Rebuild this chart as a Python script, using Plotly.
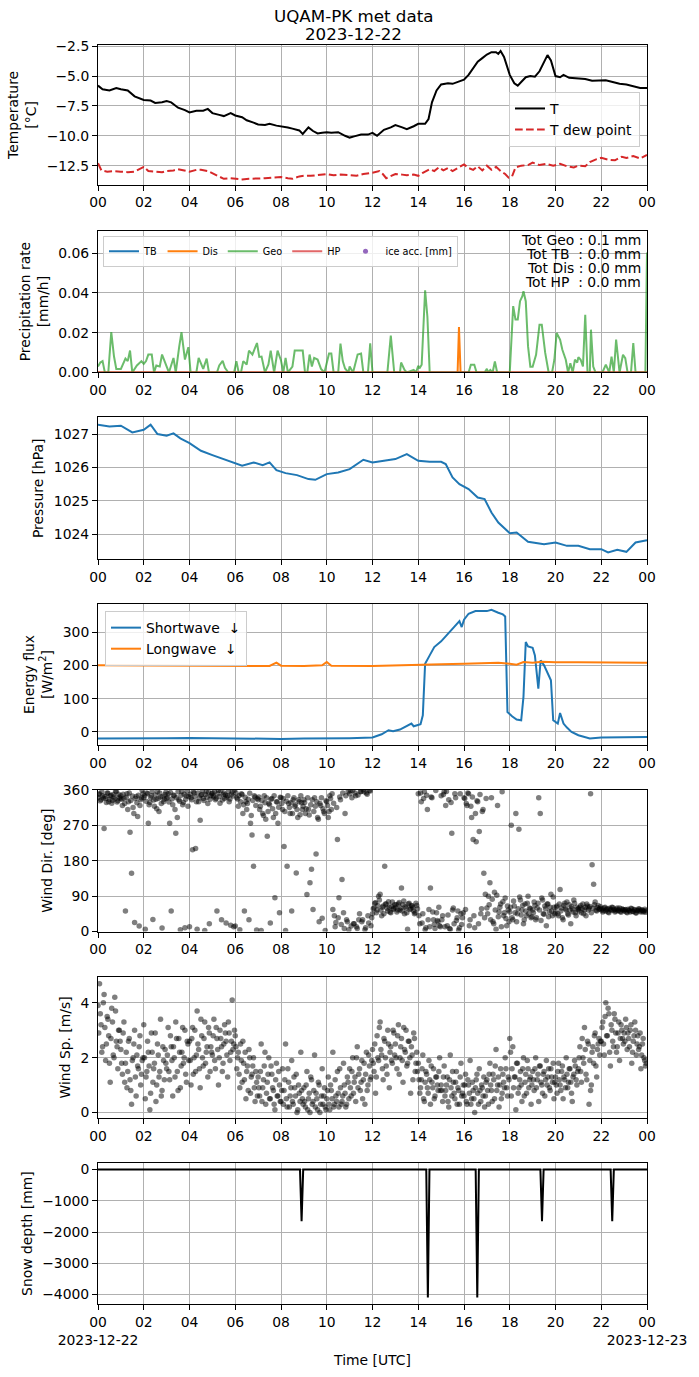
import numpy as np
import pandas as pd
import plotly.graph_objects as go
from plotly.subplots import make_subplots

day0 = pd.Timestamp('2023-12-22 00:00')
day1 = day0 + pd.Timedelta(hours=24)

# --- temperature [degC], hours since 00 UTC
t_hours = [0.0, 0.2, 0.5, 0.8, 1.0, 1.3, 1.6, 2.0, 2.3, 2.5,
           2.8, 3.0, 3.2, 3.5, 3.8, 4.0, 4.3, 4.6, 4.8, 5.0,
           5.3, 5.5, 5.8, 6.0, 6.3, 6.5, 6.8, 7.0, 7.3, 7.5,
           7.8, 8.0, 8.3, 8.5, 8.8, 8.95, 9.2, 9.4, 9.6, 9.8,
           10.0, 10.2, 10.5, 10.8, 11.0, 11.2, 11.5, 11.8, 12.0, 12.2,
           12.5, 12.8, 13.0, 13.3, 13.5, 13.8, 14.0, 14.3, 14.45, 14.6,
           14.8, 15.0, 15.3, 15.5, 15.8, 16.0, 16.2, 16.4, 16.6, 16.8,
           17.0, 17.2, 17.4, 17.5, 17.6, 17.75, 17.9, 18.0, 18.2, 18.35,
           18.5, 18.7, 18.9, 19.1, 19.3, 19.5, 19.65, 19.8, 20.0, 20.2,
           20.35, 20.6, 21.0, 21.3, 21.6, 21.9, 22.2, 22.5, 22.8, 23.1,
           23.3, 23.5, 23.7, 24.0]
t_air = [-5.8, -6.1, -6.2, -6.0, -6.1, -6.2, -6.7, -7.0, -7.05, -7.25,
         -7.2, -7.1, -7.2, -7.65, -7.85, -8.05, -7.9, -7.9, -7.75, -8.1,
         -8.25, -8.35, -8.1, -8.3, -8.45, -8.7, -8.9, -9.05, -9.1, -9.0,
         -9.15, -9.2, -9.3, -9.4, -9.55, -9.85, -9.3, -9.6, -9.8, -9.75,
         -9.7, -9.75, -9.7, -10.0, -10.15, -10.05, -9.9, -9.9, -9.75, -10.0,
         -9.5, -9.3, -9.1, -9.3, -9.45, -9.2, -9.0, -9.0, -8.6, -7.2,
         -6.2, -5.7, -5.6, -5.65, -5.45, -5.3, -4.9, -4.4, -3.8, -3.5,
         -3.2, -3.0, -3.0, -3.15, -2.9, -3.4, -4.2, -4.9, -5.6, -5.8,
         -5.5, -5.1, -5.0, -5.05, -4.6, -3.8, -3.25, -3.7, -5.0, -5.1,
         -4.9, -5.15, -5.2, -5.25, -5.4, -5.4, -5.35, -5.5, -5.65, -5.7,
         -5.8, -5.95, -6.0, -6.0]

td_hours = [0.0, 0.15, 0.4, 0.7, 1.0, 1.3, 1.6, 1.9, 2.0, 2.2,
            2.5, 2.8, 3.0, 3.3, 3.5, 3.8, 4.0, 4.3, 4.5, 4.8,
            5.0, 5.3, 5.5, 5.8, 6.0, 6.3, 6.6, 7.0, 7.3, 7.6,
            8.0, 8.3, 8.5, 8.8, 9.0, 9.3, 9.6, 10.0, 10.3, 10.6,
            11.0, 11.3, 11.6, 12.0, 12.3, 12.45, 12.6, 12.8, 13.0, 13.3,
            13.5, 13.8, 14.0, 14.2, 14.5, 14.7, 14.9, 15.1, 15.3, 15.5,
            15.7, 16.0, 16.2, 16.4, 16.6, 16.8, 17.0, 17.2, 17.4, 17.6,
            17.8, 17.95, 18.1, 18.25, 18.5, 18.8, 19.0, 19.3, 19.6, 19.9,
            20.2, 20.5, 20.8, 21.0, 21.3, 21.5, 21.8, 22.0, 22.3, 22.6,
            22.9, 23.1, 23.4, 23.7, 24.0]
t_dew = [-12.3, -12.9, -13.0, -12.95, -13.0, -13.05, -13.0, -12.75, -12.6, -12.95,
         -13.0, -13.05, -12.95, -12.9, -12.8, -12.95, -13.0, -12.85, -12.85, -12.95,
         -13.15, -13.4, -13.6, -13.55, -13.6, -13.65, -13.6, -13.6, -13.55, -13.5,
         -13.45, -13.55, -13.6, -13.4, -13.35, -13.35, -13.3, -13.2, -13.3, -13.25,
         -13.3, -13.35, -13.2, -13.1, -12.95, -13.2, -13.55, -13.35, -13.2, -13.25,
         -13.3, -13.25, -13.35, -13.1, -12.8, -12.95, -12.65, -12.9, -12.7, -12.95,
         -12.75, -12.4, -12.7, -12.85, -12.55, -12.9, -12.5, -12.85, -12.6, -12.95,
         -13.2, -13.5, -13.4, -12.65, -12.5, -12.45, -12.25, -12.45, -12.35, -12.5,
         -12.35, -12.55, -12.65, -12.5, -12.55, -12.2, -11.95, -11.85, -12.0, -12.05,
         -11.75, -11.85, -11.7, -11.9, -11.6]

# --- precipitation rate [mm/h]
geo_hours = [0.0, 0.1, 0.2, 0.3, 0.45, 0.58, 0.7, 0.8, 1.0, 1.2,
             1.3, 1.4, 1.5, 1.7, 1.9, 2.0, 2.1, 2.2, 2.35, 2.45,
             2.55, 2.7, 2.8, 2.95, 3.1, 3.3, 3.4, 3.55, 3.65, 3.8,
             3.95, 4.05, 4.3, 4.4, 4.6, 4.75, 4.85, 5.2, 5.3, 5.45,
             5.55, 5.7, 5.95, 6.05, 6.15, 6.25, 6.35, 6.5, 6.6, 6.75,
             6.85, 6.95, 7.05, 7.15, 7.3, 7.45, 7.55, 7.7, 7.85, 8.0,
             8.1, 8.2, 8.3, 8.5, 8.6, 8.95, 9.05, 9.15, 9.25, 9.35,
             9.45, 9.6, 9.75, 9.9, 10.1, 10.2, 10.3, 10.5, 10.6, 10.7,
             10.8, 10.95, 11.0, 11.15, 11.35, 11.5, 11.6, 11.8, 11.9, 12.0,
             12.65, 12.8, 12.95, 13.2, 13.25, 13.4, 13.5, 13.8, 13.9, 14.0,
             14.05, 14.15, 14.3, 14.4, 14.5, 16.2, 16.3, 16.45, 16.55, 16.9,
             17.0, 17.05, 17.15, 17.25, 17.35, 17.45, 18.0, 18.15, 18.25, 18.35,
             18.45, 18.55, 18.6, 18.7, 18.8, 18.9, 19.0, 19.15, 19.3, 19.4,
             19.55, 19.7, 19.85, 19.95, 20.05, 20.2, 20.3, 20.45, 20.55, 20.65,
             20.75, 20.85, 20.95, 21.0, 21.1, 21.2, 21.3, 21.4, 21.5, 21.55,
             21.65, 21.75, 22.05, 22.2, 22.35, 22.45, 22.55, 22.65, 22.8, 22.95,
             23.05, 23.15, 23.3, 23.4, 23.5, 23.93, 24.0]
geo_rate = [0.003, 0.005, 0.0057, 0, 0, 0.0203, 0.008, 0.0018, 0.0018, 0.007,
            0.0057, 0.011, 0, 0.0035, 0.0057, 0.0043, 0.0057, 0.009, 0.009, 0,
            0.0035, 0.003, 0.009, 0.004, 0, 0.0073, 0, 0.013, 0.0203, 0.0065,
            0.0127, 0, 0, 0.0073, 0.0018, 0.007, 0, 0, 0.0035, 0.0058,
            0.0023, 0, 0, 0.0057, 0, 0, 0.0057, 0.004, 0.011, 0.009,
            0.012, 0.0148, 0.0078, 0.008, 0, 0.004, 0.011, 0, 0.011, 0.006,
            0, 0.0073, 0, 0.003, 0.011, 0.011, 0, 0, 0.009, 0.003,
            0.0073, 0.0065, 0.0018, 0, 0.0095, 0.0095, 0, 0, 0.0145, 0.0057,
            0.002, 0, 0.003, 0, 0.009, 0.0095, 0, 0, 0.0146, 0,
            0, 0.0185, 0, 0, 0.005, 0.0013, 0, 0.0013, 0, 0.0034,
            0.002, 0.0039, 0.0413, 0.028, 0, 0, 0.0039, 0.0039, 0, 0,
            0.0018, 0, 0.0013, 0, 0.0055, 0, 0, 0.0333, 0.0266, 0.0266,
            0.0358, 0.0383, 0.0408, 0.0358, 0.0131, 0.0029, 0.0029, 0.0089, 0.024, 0.024,
            0.0098, 0, 0, 0.0064, 0.0198, 0.0165, 0.0114, 0.0064, 0, 0.0047,
            0, 0.0064, 0.005, 0.0077, 0.0064, 0.003, 0.029, 0, 0, 0.0215,
            0.003, 0, 0, 0.0039, 0, 0.008, 0, 0.0165, 0, 0.0089,
            0.0072, 0, 0, 0.0148, 0, 0, 0.0602]
dis_hours = [0, 15.72, 15.78, 15.85, 24]
dis_rate = [0, 0, 0.0228, 0, 0]
tb_hours = [0, 24]
tb_rate = [0, 0]
hp_hours = [0, 24]
hp_rate = [0, 0]
tot_labels = ['Tot Geo : 0.1 mm', 'Tot TB\u00a0 : 0.0 mm', 'Tot Dis : 0.0 mm', 'Tot HP\u00a0 : 0.0 mm']

# --- pressure [hPa]
p_hours = [0, 0.5, 1, 1.5, 2, 2.3, 2.6, 3, 3.3, 3.6,
           4, 4.5, 5, 5.5, 6, 6.3, 6.8, 7.2, 7.5, 7.8,
           8.2, 8.7, 9.2, 9.5, 10, 10.5, 11, 11.3, 11.6, 12,
           12.5, 13, 13.5, 14, 14.5, 15, 15.2, 15.5, 15.8, 16.2,
           16.6, 16.9, 17.2, 17.5, 18, 18.3, 18.8, 19.5, 20, 20.5,
           21, 21.5, 22, 22.3, 22.7, 23.1, 23.5, 24]
pressure = [1027.28, 1027.23, 1027.25, 1027.05, 1027.13, 1027.28, 1027.0, 1026.95, 1027.02, 1026.87,
            1026.73, 1026.5, 1026.37, 1026.25, 1026.13, 1026.05, 1026.15, 1026.07, 1026.15, 1025.92,
            1025.83, 1025.77, 1025.65, 1025.63, 1025.8, 1025.85, 1025.95, 1026.1, 1026.23, 1026.15,
            1026.2, 1026.25, 1026.4, 1026.2, 1026.17, 1026.17, 1026.1, 1025.7, 1025.5, 1025.35,
            1025.1, 1025.05, 1024.65, 1024.35, 1024.03, 1024.05, 1023.77, 1023.7, 1023.75, 1023.65,
            1023.65, 1023.55, 1023.55, 1023.45, 1023.53, 1023.47, 1023.75, 1023.82]

# --- radiation [W/m2]
sw_hours = [0, 1, 2, 3, 4, 5, 6, 7, 8, 9,
            10, 11, 12, 12.4, 12.7, 12.9, 13.2, 13.5, 13.7, 13.8,
            14.1, 14.2, 14.3, 14.5, 14.7, 15.0, 15.5, 15.8, 15.9, 16.0,
            16.2, 16.5, 17.0, 17.2, 17.5, 17.7, 17.8, 17.9, 18.1, 18.3,
            18.5, 18.6, 18.7, 18.8, 19.0, 19.1, 19.25, 19.35, 19.5, 19.7,
            19.8, 19.9, 20.1, 20.2, 20.35, 20.5, 20.7, 21.0, 21.5, 22.0,
            23.0, 24.0]
sw_down = [-20, -20, -21, -19, -18, -19, -20, -20, -21, -20,
           -20, -19, -17, -7, 5, 2, 7, 17, 25, 17,
           23, 50, 205, 230, 255, 272, 310, 333, 315, 337,
           355, 363, 363, 367, 358, 353, 347, 60, 47, 37,
           35, 105, 270, 257, 253, 230, 130, 215, 200, 170,
           155, 35, 25, 57, 25, 13, 0, -10, -20, -17,
           -15, -15]
lw_hours = [0, 2, 4, 6, 7.5, 7.8, 8.0, 9, 9.8, 10.0,
            10.2, 12, 14, 15, 16, 17, 17.5, 18, 18.3, 18.6,
            19, 19.4, 20, 21, 22, 23, 24]
lw_down = [200, 199, 198, 197, 198, 208, 199, 198, 200, 210,
           199, 198, 200, 203, 205, 207, 208, 205, 202, 210,
           208, 211, 209, 209, 209, 209, 208]

# --- wind, two interleaved sets of 15 samples per hour (every 4 min, offset 2 min)
wind_dir = [
    [340, 350, 335, 345, 262, 338, 352, 330, 344, 326, 348, 337, 355, 332, 341],
    [345, 320, 338, 52, 350, 330, 252, 148, 315, 23, 343, 292, 14, 335, 358],
    [340, 6, 352, 275, 328, 345, 31, 318, 336, 355, 305, 342, 9, 330, 348],
    [338, 350, 275, 52, 322, 345, 250, 290, 335, 5, 356, 328, 10, 344, 318],
    [12, 340, 208, 352, 211, 6, 330, 283, 348, 338, 3, 355, 325, 20, 345],
    [352, 342, 335, 52, 358, 326, 30, 348, 338, 22, 345, 330, 16, 355, 12],
    [14, 340, 318, 5, 350, 300, 52, 330, 325, 30, 275, 245, 166, 342, 4],
    [335, 310, 3, 300, 345, 285, 242, 325, 22, 338, 290, 86, 330, 275, 48],
    [340, 310, 216, 3, 166, 325, 300, 52, 335, 318, 149, 290, 330, 345, 310],
    [335, 300, 94, 310, 124, 158, 56, 340, 197, 290, 25, 320, 34, 305, 3],
    [330, 290, 345, 310, 56, 40, 23, 234, 86, 335, 132, 48, 300, 30, 355],
    [350, 14, 358, 20, 345, 8, 30, 355, 25, 360, 5, 352, 40, 358, 15],
    [45, 60, 73, 55, 90, 95, 40, 65, 166, 70, 52, 62, 48, 75, 58],
    [62, 50, 70, 55, 111, 68, 45, 60, 6, 72, 58, 65, 52, 48, 66],
    [350, 20, 330, 45, 355, 10, 310, 56, 111, 340, 30, 8, 48, 25, 15],
    [345, 40, 355, 320, 15, 335, 6, 250, 60, 350, 28, 52, 10, 45, 35],
    [340, 56, 320, 350, 30, 290, 234, 10, 228, 330, 254, 45, 305, 148, 95],
    [60, 90, 124, 340, 25, 100, 6, 320, 50, 70, 355, 40, 85, 15, 55],
    [50, 270, 30, 65, 300, 45, 260, 80, 55, 20, 70, 40, 90, 60, 35],
    [55, 75, 30, 60, 340, 300, 85, 45, 65, 15, 70, 50, 95, 40, 62],
    [50, 65, 40, 107, 60, 30, 72, 55, 45, 68, 20, 58, 80, 48, 62],
    [58, 62, 48, 70, 55, 40, 65, 60, 350, 170, 120, 75, 52, 66, 58],
    [55, 50, 60, 52, 58, 48, 56, 62, 54, 50, 57, 53, 60, 49, 55],
    [52, 56, 48, 54, 50, 58, 51, 55, 47, 53, 57, 50, 54, 52, 49],
]
wind_dir_b = [
    [348, 332, 355, 339, 343, 328, 351, 336, 346, 333, 342, 357, 329, 349, 338],
    [336, 349, 325, 341, 310, 352, 333, 344, 300, 338, 327, 346, 320, 339, 350],
    [345, 331, 350, 322, 340, 356, 334, 347, 312, 338, 352, 325, 343, 336, 354],
    [341, 329, 353, 337, 347, 310, 340, 355, 331, 346, 322, 349, 336, 357, 343],
    [349, 335, 356, 343, 330, 352, 339, 346, 358, 333, 348, 341, 354, 336, 350],
    [345, 356, 338, 350, 343, 358, 334, 352, 347, 341, 355, 337, 349, 344, 359],
    [352, 337, 345, 330, 348, 322, 341, 310, 336, 351, 295, 333, 345, 320, 338],
    [342, 318, 333, 295, 327, 340, 305, 322, 336, 312, 345, 300, 329, 316, 341],
    [325, 338, 305, 331, 345, 315, 328, 300, 340, 322, 310, 335, 297, 327, 318],
    [328, 312, 340, 296, 322, 335, 305, 318, 330, 285, 325, 340, 312, 300, 332],
    [320, 305, 338, 350, 326, 12, 315, 35, 342, 18, 352, 8, 345, 25, 5],
    [358, 340, 20, 352, 12, 347, 45, 356, 30, 355, 10, 349, 22, 357, 35],
    [58, 72, 48, 66, 80, 54, 62, 45, 70, 59, 76, 50, 64, 57, 68],
    [68, 55, 74, 60, 52, 78, 63, 48, 70, 56, 66, 61, 45, 72, 58],
    [40, 352, 22, 338, 5, 346, 30, 12, 342, 50, 18, 358, 28, 62, 12],
    [30, 348, 12, 356, 42, 8, 328, 55, 20, 340, 35, 4, 350, 18, 48],
    [338, 325, 352, 15, 318, 342, 40, 300, 332, 20, 348, 58, 310, 35, 338],
    [45, 68, 30, 82, 20, 55, 92, 38, 62, 12, 76, 48, 33, 65, 25],
    [62, 35, 78, 48, 25, 58, 88, 42, 66, 30, 52, 72, 45, 58, 38],
    [48, 66, 35, 72, 55, 28, 80, 44, 58, 70, 38, 62, 52, 88, 45],
    [62, 45, 70, 52, 35, 66, 58, 75, 42, 55, 63, 50, 72, 40, 57],
    [52, 66, 58, 45, 62, 70, 55, 64, 48, 59, 68, 54, 61, 57, 63],
    [58, 53, 62, 56, 50, 59, 54, 61, 57, 52, 60, 55, 51, 58, 56],
    [55, 50, 57, 53, 59, 51, 56, 48, 54, 58, 52, 55, 50, 57, 53],
]
wind_sp = [
    [3.9, 4.7, 3.2, 2.4, 4.3, 1.9, 3.5, 2.8, 1.1, 3.8, 2.1, 4.2, 2.6, 1.6, 3.0],
    [2.3, 1.4, 3.3, 1.8, 0.9, 2.6, 1.2, 0.3, 2.0, 3.0, 0.6, 1.7, 2.4, 1.0, 1.9],
    [3.2, 0.5, 1.5, 2.2, 0.1, 2.9, 1.1, 1.8, 0.4, 2.5, 1.3, 3.4, 0.8, 1.9, 2.3],
    [1.6, 3.1, 1.2, 2.4, 0.6, 2.0, 3.3, 1.5, 2.7, 0.9, 2.2, 1.8, 3.0, 1.1, 2.5],
    [2.6, 1.0, 3.1, 2.0, 1.5, 3.7, 2.3, 0.9, 2.8, 1.7, 3.3, 2.2, 1.3, 2.9, 2.4],
    [2.1, 3.4, 1.6, 2.7, 1.0, 3.0, 2.4, 1.8, 3.2, 2.6, 1.3, 2.9, 2.2, 4.1, 2.5],
    [2.8, 1.6, 2.2, 0.9, 1.9, 2.6, 1.2, 0.5, 1.7, 2.3, 0.7, 1.4, 2.0, 0.4, 1.1],
    [1.3, 0.6, 2.5, 0.9, 1.7, 0.3, 1.1, 2.0, 0.5, 1.4, 0.8, 0.1, 1.8, 0.6, 1.0],
    [0.4, 1.6, 0.8, 2.5, 0.2, 1.1, 0.6, 1.9, 0.3, 0.9, 1.4, 0.1, 0.7, 2.2, 0.5],
    [0.9, 0.2, 1.5, 0.5, 0.0, 1.2, 0.4, 2.1, 0.7, 0.1, 1.0, 0.3, 1.6, 0.6, 0.2],
    [0.5, 1.3, 0.1, 0.8, 2.2, 0.3, 0.6, 1.5, 0.2, 0.9, 0.4, 1.8, 0.7, 0.3, 1.1],
    [1.6, 0.6, 2.0, 1.1, 0.4, 2.4, 1.4, 0.8, 1.9, 1.2, 0.3, 2.2, 1.0, 1.7, 1.3],
    [2.3, 1.5, 0.7, 2.8, 1.9, 3.3, 2.1, 1.2, 2.6, 1.7, 3.0, 0.9, 2.4, 1.8, 2.9],
    [2.5, 1.6, 3.2, 2.0, 2.7, 1.1, 2.3, 3.0, 1.8, 2.6, 0.7, 2.1, 2.9, 1.5, 2.2],
    [1.8, 0.7, 1.2, 2.1, 0.4, 1.5, 0.9, 1.9, 0.3, 1.1, 1.6, 0.6, 1.3, 0.8, 2.0],
    [1.0, 0.4, 1.7, 0.8, 1.3, 0.2, 2.1, 0.6, 1.1, 0.5, 1.5, 0.9, 0.3, 1.8, 0.7],
    [0.6, 1.4, 0.3, 1.0, 1.9, 0.5, 0.8, 0.0, 1.2, 0.7, 1.6, 0.4, 0.9, 1.3, 0.6],
    [1.2, 0.3, 1.8, 0.8, 1.4, 0.5, 2.3, 1.0, 0.2, 1.6, 0.7, 1.1, 2.0, 0.9, 1.3],
    [2.7, 0.6, 2.4, 1.3, 0.1, 1.8, 0.9, 1.5, 0.4, 2.0, 1.1, 0.7, 1.6, 1.2, 0.3],
    [1.5, 0.8, 2.0, 1.2, 0.4, 1.7, 1.0, 1.4, 0.6, 1.9, 1.3, 0.9, 1.6, 1.1, 0.5],
    [1.3, 0.7, 1.8, 1.0, 1.5, 0.5, 1.2, 2.0, 0.9, 1.6, 1.1, 0.4, 1.4, 1.7, 1.0],
    [1.6, 2.4, 1.1, 2.0, 3.1, 1.4, 2.6, 0.3, 0.8, 2.2, 1.8, 2.9, 1.3, 2.5, 2.1],
    [2.6, 3.3, 2.1, 4.0, 2.8, 3.6, 1.7, 3.0, 2.4, 3.4, 2.2, 2.9, 1.9, 3.2, 2.7],
    [2.9, 3.4, 2.3, 2.7, 3.0, 1.8, 2.6, 3.3, 2.1, 2.8, 2.4, 1.6, 2.5, 2.0, 1.7],
]
wind_sp_b = [
    [2.9, 3.6, 2.2, 4.0, 3.1, 2.5, 3.4, 1.8, 2.7, 3.3, 2.0, 3.7, 2.4, 3.0, 2.6],
    [1.8, 2.9, 1.1, 2.2, 1.5, 2.7, 0.8, 1.9, 2.5, 1.3, 2.1, 1.6, 2.8, 1.4, 2.0],
    [2.0, 1.3, 2.6, 1.7, 0.7, 2.2, 1.6, 2.9, 1.0, 2.1, 1.5, 0.6, 2.4, 1.2, 1.8],
    [2.1, 1.5, 2.8, 1.9, 2.4, 1.3, 2.7, 0.8, 2.2, 1.7, 3.1, 2.0, 1.4, 2.6, 1.9],
    [1.9, 2.7, 1.4, 3.0, 2.1, 2.5, 1.6, 3.4, 2.0, 2.7, 1.8, 2.4, 3.1, 1.5, 2.2],
    [2.8, 1.9, 3.1, 2.3, 2.0, 2.7, 1.5, 2.5, 2.9, 2.1, 3.3, 1.9, 2.6, 2.3, 3.0],
    [2.4, 2.0, 1.4, 2.5, 1.1, 1.8, 2.2, 1.5, 0.8, 2.0, 1.3, 1.7, 0.9, 1.5, 0.6],
    [0.9, 1.5, 0.4, 1.2, 2.2, 0.7, 1.4, 0.5, 1.7, 0.9, 0.3, 1.2, 0.6, 1.5, 0.4],
    [0.8, 0.3, 1.2, 0.5, 1.6, 0.2, 0.9, 0.4, 1.3, 0.6, 0.0, 1.0, 0.4, 0.8, 0.3],
    [0.4, 1.0, 0.1, 0.7, 1.3, 0.3, 0.8, 0.2, 0.5, 1.1, 0.0, 0.6, 0.3, 0.9, 0.1],
    [0.8, 0.3, 1.0, 0.5, 0.2, 1.2, 0.4, 0.7, 1.6, 0.3, 0.6, 1.0, 0.2, 1.3, 0.5],
    [0.9, 1.5, 0.7, 1.3, 2.0, 0.9, 1.6, 1.1, 0.5, 1.8, 1.4, 0.8, 2.1, 1.2, 1.9],
    [1.8, 2.5, 1.3, 2.0, 3.1, 2.3, 1.6, 2.7, 2.0, 1.4, 2.5, 2.2, 1.9, 3.0, 2.1],
    [2.0, 2.8, 1.4, 2.4, 1.9, 3.1, 2.2, 1.7, 2.6, 2.0, 2.4, 1.2, 2.7, 1.8, 1.5],
    [1.2, 0.9, 1.6, 0.5, 1.1, 1.4, 0.7, 1.2, 1.7, 0.9, 0.5, 1.3, 1.0, 1.5, 0.8],
    [0.8, 1.3, 0.6, 1.0, 0.4, 1.2, 0.9, 1.5, 0.7, 1.1, 0.3, 0.8, 1.3, 0.6, 1.0],
    [1.0, 0.4, 1.2, 0.7, 0.3, 1.1, 0.5, 0.9, 1.4, 0.3, 0.8, 1.0, 0.6, 0.2, 1.1],
    [0.8, 1.4, 1.0, 0.4, 1.2, 1.7, 0.8, 1.3, 1.0, 0.5, 1.4, 0.9, 1.6, 0.6, 1.2],
    [2.2, 1.6, 0.9, 1.3, 1.8, 0.7, 1.2, 1.0, 1.6, 0.6, 1.4, 1.9, 0.9, 1.3, 1.0],
    [1.2, 1.6, 0.9, 1.4, 1.7, 1.1, 0.7, 1.5, 1.2, 1.0, 1.6, 0.8, 1.3, 1.8, 1.1],
    [1.0, 1.5, 1.2, 0.8, 1.7, 1.3, 0.9, 1.4, 1.1, 1.6, 0.7, 1.3, 1.9, 1.2, 1.5],
    [2.0, 1.5, 2.7, 1.8, 2.3, 1.2, 2.5, 1.9, 1.0, 2.4, 2.8, 1.7, 2.3, 2.7, 2.6],
    [3.1, 2.5, 3.5, 2.8, 3.8, 2.2, 3.2, 2.6, 3.6, 2.9, 2.4, 3.3, 2.7, 3.0, 2.5],
    [2.6, 3.1, 2.9, 2.4, 3.2, 2.2, 2.8, 3.0, 2.5, 2.3, 2.9, 2.1, 2.7, 1.9, 1.8],
]

# --- snow depth [mm]
snow_hours = [0, 8.83, 8.9, 8.97, 14.35, 14.42, 14.49, 16.51, 16.58, 16.65,
              19.34, 19.41, 19.48, 22.41, 22.48, 22.55, 24]
snow_depth = [0, 0, -1650, 0, 0, -4100, 0, 0, -4100, 0,
              0, -1650, 0, 0, -1650, 0, 0]

tick_hours = list(range(0, 25, 2))
tick_text = ['%02d' % (h % 24) for h in tick_hours]


def to_time(hours):
    return day0 + pd.to_timedelta(np.asarray(hours, dtype=float), unit='h')


# pixel helpers (plot area: x 98..649, y 45..1306 of a 699x1377 page)
def px_x(px):
    return (px - 98) / 551.0


def px_y(px):
    return (1306 - px) / 1261.0


wind_t = [h + k / 15.0 for h in range(24) for k in range(15)]
wind_t += [h + (k + 0.5) / 15.0 for h in range(24) for k in range(15)]
wdir_flat = [v for row in wind_dir for v in row] + [v for row in wind_dir_b for v in row]
wsp_flat = [v for row in wind_sp for v in row] + [v for row in wind_sp_b for v in row]

fig = make_subplots(rows=7, cols=1)

# temperature
fig.add_trace(go.Scatter(x=to_time(t_hours), y=t_air, mode='lines', name='T',
                         line=dict(color='black', width=2), legend='legend'), row=1, col=1)
fig.add_trace(go.Scatter(x=to_time(td_hours), y=t_dew, mode='lines', name='T dew point',
                         line=dict(color='#d62728', width=2, dash='7.7px,3.3px'), legend='legend'), row=1, col=1)

# precipitation
fig.add_trace(go.Scatter(x=to_time(tb_hours), y=tb_rate, mode='lines', name='TB',
                         line=dict(color='#1f77b4', width=2), legend='legend2'), row=2, col=1)
fig.add_trace(go.Scatter(x=to_time(dis_hours), y=dis_rate, mode='lines', name='Dis',
                         line=dict(color='#ff7f0e', width=2), legend='legend2'), row=2, col=1)
fig.add_trace(go.Scatter(x=to_time(geo_hours), y=geo_rate, mode='lines', name='Geo',
                         line=dict(color='rgba(44,160,44,0.7)', width=2), legend='legend2'), row=2, col=1)
fig.add_trace(go.Scatter(x=to_time(hp_hours), y=hp_rate, mode='lines', name='HP',
                         line=dict(color='rgba(214,39,40,0.7)', width=2), legend='legend2'), row=2, col=1)
fig.add_trace(go.Scatter(x=[None], y=[None], mode='markers', name='ice acc. [mm]',
                         marker=dict(color='#9467bd', size=5), legend='legend2'), row=2, col=1)

# pressure
fig.add_trace(go.Scatter(x=to_time(p_hours), y=pressure, mode='lines', showlegend=False,
                         line=dict(color='#1f77b4', width=2)), row=3, col=1)

# radiation
fig.add_trace(go.Scatter(x=to_time(sw_hours), y=sw_down, mode='lines', name='Shortwave  \u2193',
                         line=dict(color='#1f77b4', width=2), legend='legend3'), row=4, col=1)
fig.add_trace(go.Scatter(x=to_time(lw_hours), y=lw_down, mode='lines', name='Longwave  \u2193',
                         line=dict(color='#ff7f0e', width=2), legend='legend3'), row=4, col=1)

# wind
fig.add_trace(go.Scatter(x=to_time(wind_t), y=wdir_flat, mode='markers', showlegend=False,
                         marker=dict(color='black', opacity=0.5, size=5.5, line=dict(width=0))), row=5, col=1)
fig.add_trace(go.Scatter(x=to_time(wind_t), y=wsp_flat, mode='markers', showlegend=False,
                         marker=dict(color='black', opacity=0.5, size=5.5, line=dict(width=0))), row=6, col=1)

# snow
fig.add_trace(go.Scatter(x=to_time(snow_hours), y=snow_depth, mode='lines', showlegend=False,
                         line=dict(color='black', width=2)), row=7, col=1)

axis_style = dict(showline=True, linecolor='black', linewidth=1, mirror=True,
                  ticks='outside', ticklen=5, tickwidth=1, tickcolor='black',
                  showgrid=True, gridcolor='#b0b0b0', gridwidth=1, zeroline=False,
                  tickfont=dict(size=13.9, color='black'))

panels = [  # (top px, bottom px, y range, y title)
    (45, 185, [-14.1, -2.4], 'Temperature<br>[°C]'),
    (231, 373, [0, 0.0712], 'Precipitation rate<br>[mm/h]'),
    (418, 560, [1023.25, 1027.5], 'Pressure [hPa]'),
    (605, 746, [-39, 384], 'Energy flux<br>[W/m<sup>2</sup>]'),
    (791, 933, [0, 360], 'Wind Dir. [deg]'),
    (978, 1120, [-0.21, 4.96], 'Wind Sp. [m/s]'),
    (1165, 1306, [-4305, 205], 'Snow depth [mm]'),
]

xtick_vals = to_time(tick_hours)
for i, (top, bot, yr, ytitle) in enumerate(panels, start=1):
    sfx = '' if i == 1 else str(i)
    ttext = list(tick_text)
    if i == 7:
        ttext[0] = '00<br>2023-12-22'
        ttext[-1] = '00<br>2023-12-23'
    fig.update_layout({
        'xaxis' + sfx: dict(axis_style, range=[day0, day1], tickvals=xtick_vals, ticktext=ttext,
                            tickangle=0, domain=[0, 1]),
        'yaxis' + sfx: dict(axis_style, range=yr, domain=[px_y(bot), px_y(top)],
                            title=dict(text=ytitle, font=dict(size=13.9), standoff=6)),
    })

fig.update_yaxes(tickformat='.1f', dtick=2.5, tick0=-2.5, row=1, col=1)
fig.update_yaxes(tickformat='.2f', dtick=0.02, row=2, col=1)
fig.update_yaxes(dtick=1, row=3, col=1)
fig.update_yaxes(dtick=100, row=4, col=1)
fig.update_yaxes(dtick=90, row=5, col=1)
fig.update_yaxes(dtick=2, row=6, col=1)
fig.update_yaxes(tickvals=[0, -1000, -2000, -3000, -4000],
                 ticktext=['0', '\u22121000', '\u22122000', '\u22123000', '\u22124000'], row=7, col=1)
fig.update_xaxes(title=dict(text='Time [UTC]', font=dict(size=13.9), standoff=8), row=7, col=1)

annotations = [
    dict(text='UQAM-PK met data', x=px_x(354), y=px_y(16), xref='paper', yref='paper',
         showarrow=False, font=dict(size=16.7), xanchor='center', yanchor='middle'),
    dict(text='2023-12-22', x=px_x(354), y=px_y(34), xref='paper', yref='paper',
         showarrow=False, font=dict(size=16.7), xanchor='center', yanchor='middle'),
]
for j, lab in enumerate(tot_labels):
    annotations.append(dict(text=lab, x=px_x(645), y=px_y(240 + 14 * j), xref='paper', yref='paper',
                            showarrow=False, font=dict(size=13.9), xanchor='right', yanchor='middle'))

fig.update_layout(
    width=699, height=1377,
    margin=dict(l=98, r=50, t=45, b=71),
    plot_bgcolor='white', paper_bgcolor='white',
    font=dict(family='DejaVu Sans', size=13.9, color='black'),
    annotations=annotations,
    legend=dict(x=px_x(642), y=px_y(92), xanchor='right', yanchor='top',
                bgcolor='rgba(255,255,255,0.8)', bordercolor='#cccccc', borderwidth=1,
                font=dict(size=13.9), tracegroupgap=0),
    legend2=dict(x=px_x(103), y=px_y(236), xanchor='left', yanchor='top', orientation='h',
                 bgcolor='rgba(255,255,255,0.8)', bordercolor='#cccccc', borderwidth=1,
                 font=dict(size=9.7)),
    legend3=dict(x=px_x(105), y=px_y(612), xanchor='left', yanchor='top',
                 bgcolor='rgba(255,255,255,0.8)', bordercolor='#cccccc', borderwidth=1,
                 font=dict(size=13.9), tracegroupgap=0),
)

fig.write_html("out.html", config={'displayModeBar': False},
               post_script="document.body.style.margin='0';")
